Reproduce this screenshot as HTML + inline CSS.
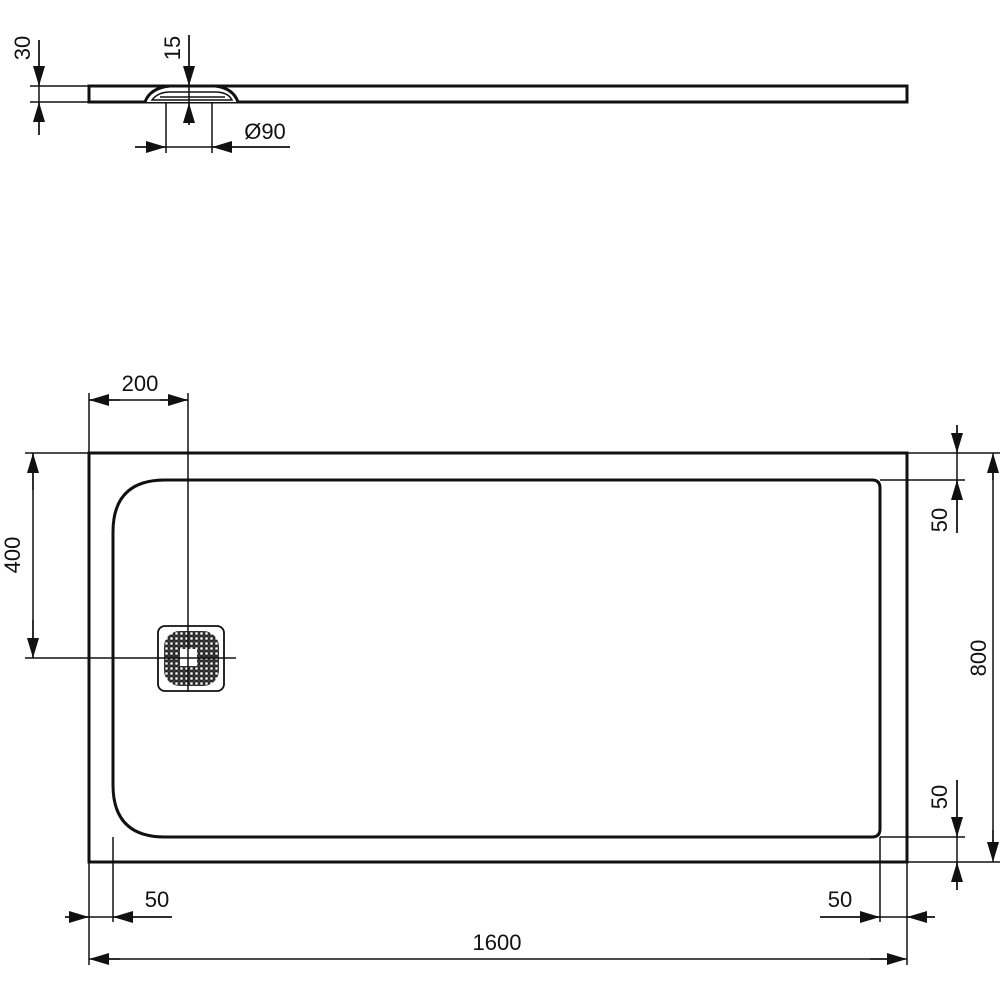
<!DOCTYPE html>
<html><head><style>body{margin:0;background:#fff}svg{display:block}text{font-family:"Liberation Sans",Arial,sans-serif;font-size:22px;fill:#111}</style></head>
<body>
<svg width="1000" height="1000" viewBox="0 0 1000 1000" xmlns="http://www.w3.org/2000/svg">
<defs>
<marker id="a" viewBox="0 0 10 6" refX="10" refY="3" markerWidth="20" markerHeight="12" markerUnits="userSpaceOnUse" orient="auto"><path d="M0,0L10,3L0,6z" fill="#111"/></marker>
<pattern id="g" x="164" y="631" width="5" height="5" patternUnits="userSpaceOnUse"><rect x="0.7" y="0.7" width="3.6" height="3.6" fill="none" stroke="#111" stroke-width="1.2"/></pattern>
<mask id="m"><rect x="164" y="631" width="55" height="55" rx="16" fill="#fff"/><rect x="180" y="649" width="17" height="17" fill="#000"/></mask>
</defs>
<g stroke="#111" fill="none">
<path d="M89,86H907V102H89Z" stroke-width="3"/>
<path d="M145,102Q150,88 170,86H215Q233,88 238,102" stroke-width="3" fill="#fff"/>
<path d="M152,100Q158,92 170,92H215Q228,92 232,100Z" stroke-width="1.5"/>
<path d="M160,97H225" stroke-width="1.5"/>
<g stroke-width="1.5">
<path d="M30,86H89M30,102H89"/>
<path d="M39,40V135M189,35V125M135,147H290"/>
<path d="M39,40V86" marker-end="url(#a)"/><path d="M39,135V102" marker-end="url(#a)"/>
<path d="M189,35V86" marker-end="url(#a)"/><path d="M189,125V103" marker-end="url(#a)"/>
<path d="M166,102V153M212,102V153"/>
<path d="M135,147H166" marker-end="url(#a)"/><path d="M290,147H212" marker-end="url(#a)"/>
</g>
<rect x="89" y="453" width="818" height="409" stroke-width="3"/>
<path d="M880,488V829Q880,837 872,837H165Q113,837 113,785V532Q113,480 165,480H872Q880,480 880,488Z" stroke-width="3"/>
<rect x="158" y="626" width="66" height="65" rx="7" stroke-width="1.8" fill="#fff"/>
<rect x="164" y="631" width="55" height="55" fill="url(#g)" stroke="none" mask="url(#m)"/>
<g stroke-width="1.5">
<path d="M89,393V453M188,393V692M25,453H89M25,658H236"/>
<path d="M89,400H188"/>
<path d="M120,400H89" marker-end="url(#a)"/><path d="M160,400H188" marker-end="url(#a)"/>
<path d="M33,490V453" marker-end="url(#a)"/><path d="M33,620V658" marker-end="url(#a)"/><path d="M33,453V658"/>
<path d="M907,453H1000M880,480H965M880,837H965M907,862H1000"/>
<path d="M957,425V533M957,780V890"/>
<path d="M957,425V453" marker-end="url(#a)"/><path d="M957,533V480" marker-end="url(#a)"/>
<path d="M957,780V837" marker-end="url(#a)"/><path d="M957,890V862" marker-end="url(#a)"/>
<path d="M993,480V453" marker-end="url(#a)"/><path d="M993,830V862" marker-end="url(#a)"/><path d="M993,470V845"/>
<path d="M89,862V965M113,837V922M880,837V922M907,862V965"/>
<path d="M65,917H172M820,917H935"/>
<path d="M65,917H89" marker-end="url(#a)"/><path d="M172,917H113" marker-end="url(#a)"/>
<path d="M820,917H880" marker-end="url(#a)"/><path d="M935,917H907" marker-end="url(#a)"/>
<path d="M120,959H89" marker-end="url(#a)"/><path d="M870,959H907" marker-end="url(#a)"/><path d="M100,959H895"/>
</g>
</g>
<text x="140" y="391" text-anchor="middle">200</text>
<text transform="translate(20,555) rotate(-90)" text-anchor="middle">400</text>
<text transform="translate(947,520) rotate(-90)" text-anchor="middle">50</text>
<text transform="translate(947,797) rotate(-90)" text-anchor="middle">50</text>
<text transform="translate(986,658) rotate(-90)" text-anchor="middle">800</text>
<text x="157" y="907" text-anchor="middle">50</text>
<text x="840" y="907" text-anchor="middle">50</text>
<text x="497" y="950" text-anchor="middle">1600</text>
<text transform="translate(30,48) rotate(-90)" text-anchor="middle">30</text>
<text transform="translate(180,48) rotate(-90)" text-anchor="middle">15</text>
<text x="265" y="139" text-anchor="middle">Ø90</text>
</svg>
</body></html>
